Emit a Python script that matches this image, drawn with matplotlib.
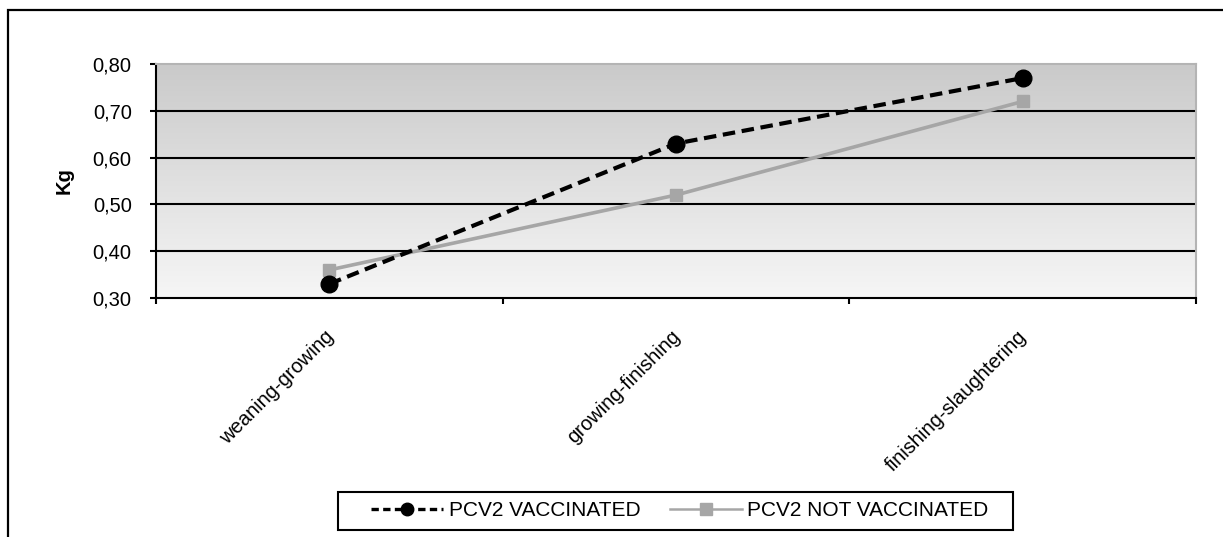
import matplotlib.pyplot as plt
import matplotlib.patches as patches
from matplotlib.colors import LinearSegmentedColormap
from matplotlib.lines import Line2D
import numpy as np

plt.rcParams['font.family'] = ['Liberation Sans', 'DejaVu Sans']

# data
stages = ['weaning-growing', 'growing-finishing', 'finishing-slaughtering']
vaccinated = [0.33, 0.63, 0.77]
not_vaccinated = [0.36, 0.52, 0.72]
yticks = [0.30, 0.40, 0.50, 0.60, 0.70, 0.80]

W, H = 1223, 537
fig = plt.figure(figsize=(W / 100, H / 100), dpi=100)
ax = fig.add_axes([156 / W, 1 - 298 / H, (1196 - 156) / W, 234 / H])

# gradient background, light at the bottom, gray at the top
bg = LinearSegmentedColormap.from_list('bg', ['#f6f6f6', '#cacaca'])
grad = np.linspace(0, 1, 256).reshape(-1, 1)
ax.imshow(grad, cmap=bg, aspect='auto', extent=[0, 1, 0, 1],
          transform=ax.transAxes, origin='lower', zorder=0)

x = np.arange(len(stages))
ax.plot(x, vaccinated, color='black', lw=3, ls=(0, (3, 1.6)), marker='o',
        ms=12, zorder=4)
ax.plot(x, not_vaccinated, color='#a6a6a6', lw=2.6, marker='s', ms=9, zorder=3)

ax.set_xlim(-0.5, len(stages) - 0.5)
ax.set_ylim(0.30, 0.80)
ax.set_yticks(yticks)
ax.set_yticklabels([f'{v:.2f}'.replace('.', ',') for v in yticks], fontsize=14.5)
for v in yticks[1:-1]:
    ax.axhline(v, color='black', lw=1.5, zorder=1)

ax.set_xticks(np.arange(len(stages) + 1) - 0.5)
ax.set_xticklabels([])
ax.tick_params(axis='x', direction='out', length=4.5, width=1.5, color='black')
ax.tick_params(axis='y', direction='out', length=4.5, width=1.5, color='black', pad=13)
for i, s in enumerate(stages):
    ax.annotate(s, xy=(i, 0.30), xycoords='data', xytext=(-4, -21),
                textcoords='offset points', rotation=45, rotation_mode='anchor',
                ha='right', va='top', fontsize=14.5)

for side in ['left', 'bottom']:
    ax.spines[side].set_color('black')
    ax.spines[side].set_linewidth(1.5)
for side in ['top', 'right']:
    ax.spines[side].set_color('#b4b4b4')
    ax.spines[side].set_linewidth(1.5)

ax.set_ylabel('Kg', fontsize=14.5, fontweight='bold', labelpad=14)

handles = [
    Line2D([], [], color='black', lw=2.4, ls=(0, (2.2, 1.3)), marker='o', ms=9),
    Line2D([], [], color='#a6a6a6', lw=1.8, marker='s', ms=8),
]
leg = fig.legend(handles, ['PCV2 VACCINATED', 'PCV2 NOT VACCINATED'],
                 loc='center', bbox_to_anchor=(680 / W, 1 - 511 / H), ncol=2,
                 prop={'size': 15}, frameon=False, handlelength=3.45,
                 handletextpad=0.28, columnspacing=1.4, borderpad=0,
                 borderaxespad=0)

# legend box, a little wider than matplotlib's own frame
fig.patches.append(patches.Rectangle((338 / W, 1 - 530 / H), 675 / W, 38 / H,
                                     transform=fig.transFigure, fill=False,
                                     edgecolor='black', lw=1.5))

# outer chart border (right and bottom sides fall outside the image)
fig.patches.append(patches.Rectangle((8 / W, -0.1), 1.2, 1 - 10 / H + 0.1,
                                     transform=fig.transFigure, fill=False,
                                     edgecolor='black', lw=1.6))

fig.savefig('out.png', dpi=100)
